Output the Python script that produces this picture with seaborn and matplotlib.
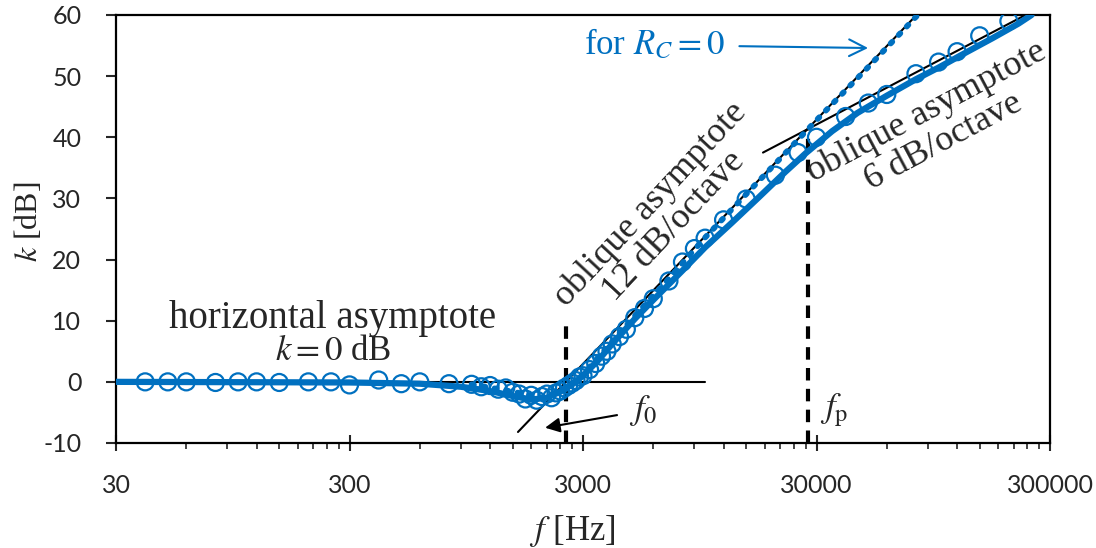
import numpy as np
import pandas as pd
import seaborn as sns
import matplotlib.pyplot as plt
from matplotlib.ticker import NullFormatter

# measured points (circles)
freq_meas = [40, 50, 60, 80, 100, 120, 150, 200, 250, 300, 400, 500, 600, 800,
             1000, 1100, 1200, 1300, 1400, 1500, 1600, 1700, 1800, 1900, 2000,
             2100, 2200, 2300, 2400, 2500, 2600, 2700, 2800, 2900, 3000, 3200,
             3400, 3600, 3800, 4000, 4300, 4600, 5000, 5500, 6000, 7000, 8000,
             9000, 10000, 12000, 15000, 20000, 25000, 30000, 40000, 50000,
             60000, 80000, 100000, 120000, 150000, 200000]
k_meas = [0.0, 0.0, 0.0, -0.1, 0.0, 0.0, -0.1, 0.0, 0.0, -0.5, 0.3, -0.3, 0.0, -0.3,
          -0.4, -0.8, -0.6, -1.2, -1.0, -1.7, -2.0, -2.8, -2.2, -3.0, -2.4,
          -2.0, -2.6, -1.8, -1.5, -1.0, -0.6, -0.2, 0.2, 0.8, 1.0, 2.0,
          3.0, 4.2, 5.0, 6.2, 7.4, 8.6, 10.5, 12.0, 13.6, 16.5, 19.6,
          21.8, 23.5, 26.5, 29.9, 33.8, 37.5, 40.0, 43.4, 45.6,
          47.0, 50.4, 52.3, 54.0, 56.6, 59.0]

# model curve (thick line)
freq_model = [30, 300, 600, 900, 1200, 1500, 1800, 2100, 2400, 2700, 3000, 3500,
              4000, 5000, 6000, 8000, 10000, 13000, 17000, 22000, 27000, 35000,
              45000, 60000, 80000, 100000, 130000, 170000, 220000, 250000]
k_model = [0.0, -0.1, -0.3, -0.8, -1.5, -2.3, -2.9, -2.6, -1.6, -0.4, 1.0, 3.6,
           6.2, 10.3, 13.4, 18.2, 22.0, 26.0, 30.2, 34.3, 37.4, 41.0,
           44.0, 46.8, 49.5, 51.4, 53.8, 56.2, 58.6, 60.0]

# model curve for R_C = 0 (dotted)
freq_rc0 = [1000, 1500, 2000, 2540, 3000, 4000, 5000, 7000, 10000, 15000, 20000,
            30000, 50000, 80000, 86000]
k_rc0 = [-0.4, -1.6, -2.6, -1.2, 1.2, 6.6, 10.8, 16.9, 23.6, 30.7, 35.7,
         42.8, 51.5, 59.7, 60.6]

# asymptotes and characteristic frequencies
horiz_f = [30, 10000]
horiz_k = [0, 0]
obl12_f = [1580, 79500]
obl12_k = [-8.2, 59.8]
obl6_f = [17700, 300000]
obl6_k = [37.5, 62.1]
f0 = 2540
fp = 27600
f0_top = 10
fp_top = 41.4

blue = "#0070C0"
serif = "Liberation Serif"

sns.set_theme(style="white")
plt.rcParams["mathtext.fontset"] = "stix"
plt.rcParams["axes.unicode_minus"] = False
plt.rcParams["font.family"] = ["Lato", "DejaVu Sans"]

fig = plt.figure(figsize=(10.96, 5.48), dpi=100)
ax = fig.add_axes([116 / 1096, 1 - 443 / 548, 934 / 1096, 428 / 548])

# asymptotes
ax.plot(horiz_f, horiz_k, color="black", lw=1.5, zorder=2)
ax.plot(obl12_f, obl12_k, color="black", lw=1.5, zorder=2)
ax.plot(obl6_f, obl6_k, color="black", lw=1.5, zorder=2)
ax.plot([f0, f0], [-10, f0_top], color="black", lw=3, ls=(0, (3, 2)), zorder=2)
ax.plot([fp, fp], [-10, fp_top], color="black", lw=3, ls=(0, (3, 2)), zorder=2)

# R_C = 0 curve as dots
ax.plot(freq_rc0, k_rc0, color=blue, lw=4.2, ls=(0, (0.4, 1.6)),
        dash_capstyle="round", zorder=3)

# model curve
df_model = pd.DataFrame({"f": freq_model, "k": k_model})
sns.lineplot(data=df_model, x="f", y="k", ax=ax, color=blue, lw=4.5, zorder=4)

# measured circles
df_meas = pd.DataFrame({"f": freq_meas, "k": k_meas})
sns.scatterplot(data=df_meas, x="f", y="k", ax=ax, s=150, marker="o",
                facecolor="none", edgecolor=blue, linewidth=1.6, zorder=5)

ax.set_xscale("log")
ax.set_xlim(30, 300000)
ax.set_ylim(-10, 60)
ax.set_xticks([30, 300, 3000, 30000, 300000])
ax.set_xticklabels(["30", "300", "3000", "30000", "300000"])
ax.set_xticks([30 * m * 10 ** d for d in range(4) for m in range(2, 10)], minor=True)
ax.xaxis.set_minor_formatter(NullFormatter())
ax.set_yticks(range(-10, 61, 10))
ax.tick_params(axis="x", which="major", direction="inout", length=11, width=1.5,
               labelsize=18, pad=17, bottom=True)
ax.tick_params(axis="x", which="minor", direction="out", length=4, width=1.2, bottom=True)
ax.tick_params(axis="y", which="major", direction="out", length=7, width=1.5,
               labelsize=18, pad=18, left=True)
for s in ax.spines.values():
    s.set_color("black")
    s.set_linewidth(1.6)
ax.set_xlabel("")
ax.set_ylabel("")

ax.text(0.489, -0.205, r"$f$ [Hz]", transform=ax.transAxes, ha="center", va="center",
        fontsize=25, family=serif)
ax.text(-0.094, 0.516, r"$k$ [dB]", transform=ax.transAxes, ha="center", va="center",
        rotation=90, fontsize=23, family=serif)

# annotations
ax.text(255, 10.4, "horizontal asymptote", ha="center", va="center",
        fontsize=28, family=serif)
ax.text(255, 4.9, r"$k = 0$ dB", ha="center", va="center", fontsize=25, family=serif)
ax.text(6540, 27.3, "oblique asymptote\n12 dB/octave", ha="center", va="center",
        rotation=47, rotation_mode="anchor", multialignment="center",
        linespacing=0.95, fontsize=26, family=serif)
ax.text(96500, 41.7, "oblique asymptote\n6 dB/octave", ha="center", va="center",
        rotation=28, rotation_mode="anchor", multialignment="center",
        linespacing=1.05, fontsize=26, family=serif)

ax.annotate(r"for $R_C = 0$", xy=(49900, 54.6), xytext=(12170, 55.1),
            ha="right", va="center", color=blue, fontsize=25, family=serif,
            arrowprops=dict(arrowstyle="->", color=blue, lw=1.5,
                            mutation_scale=30, shrinkA=8, shrinkB=0))
ax.annotate(r"$f_0$", xy=(2064, -7.5), xytext=(4700, -4.7),
            ha="left", va="center", fontsize=25, family=serif,
            arrowprops=dict(arrowstyle="-|>", color="black", lw=1.5,
                            mutation_scale=22, shrinkA=6, shrinkB=0))
ax.text(31000, -4.7, r"$f_\mathrm{p}$", ha="left", va="center", fontsize=25, family=serif)

fig.savefig("out.png", dpi=100)
